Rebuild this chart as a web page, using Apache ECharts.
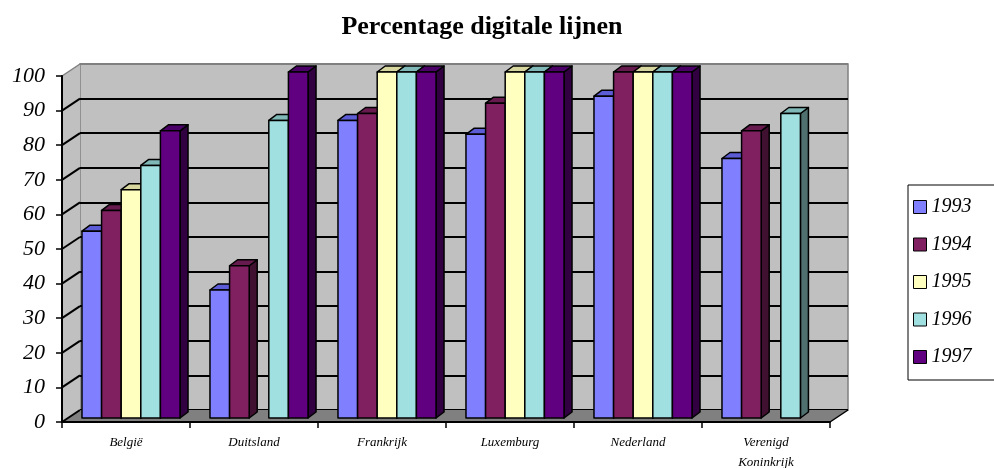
<!DOCTYPE html>
<html>
<head>
<meta charset="utf-8">
<title>Percentage digitale lijnen</title>
<script src="https://cdn.jsdelivr.net/npm/echarts@6/dist/echarts.min.js"></script>
<style>
  html, body { margin: 0; padding: 0; background: #fff; }
  #main { width: 994px; height: 468px; }
</style>
</head>
<body>
<div id="main"></div>
<script>
// landen en jaren
const landen = ['België', 'Duitsland', 'Frankrijk', 'Luxemburg', 'Nederland', 'Verenigd Koninkrijk']
const jaren = ['1993', '1994', '1995', '1996', '1997']
// percentage digitale lijnen per land (null = geen gegeven)
const v1993 = [54, 37, 86, 82, 93, 75]
const v1994 = [60, 44, 88, 91, 100, 83]
const v1995 = [66, null, 100, 100, 100, null]
const v1996 = [73, 86, 100, 100, 100, 88]
const v1997 = [83, 100, 100, 100, 100, null]
const yTicks = [0, 10, 20, 30, 40, 50, 60, 70, 80, 90, 100]

const waarden = [v1993, v1994, v1995, v1996, v1997]

// kleuren: voorkant, bovenkant, zijkant
const front = ['#8080ff', '#802060', '#ffffc0', '#a0e0e0', '#600080']
const topC = ['#5c5cd6', '#661a4d', '#d6d69e', '#80b8b8', '#4a0066']
const side = ['#404080', '#401030', '#808060', '#507070', '#300040']

// 3D offsets (pixels)
const WALL_DX = 18, WALL_DY = 12   // diepte van de achterwand
const BAR_SX = 5, BAR_SY = 4       // staven staan iets achter het voorvlak
const BAR_DX = 8, BAR_DY = 6       // diepte van een staaf

const chart = echarts.init(document.getElementById('main'))

function frameRenderer(params, api) {
  const cs = params.coordSys
  const L = cs.x, R = cs.x + cs.width
  const y0 = api.coord([0, 0])[1]
  const yTop = api.coord([0, 100])[1]
  const children = []
  // linker zijwand
  children.push({
    type: 'polygon',
    shape: { points: [[L, yTop], [L + WALL_DX, yTop - WALL_DY], [L + WALL_DX, y0 - WALL_DY], [L, y0]] },
    style: { fill: '#c0c0c0' }
  })
  // vloer
  children.push({
    type: 'polygon',
    shape: { points: [[L, y0], [R, y0], [R + WALL_DX, y0 - WALL_DY], [L + WALL_DX, y0 - WALL_DY]] },
    style: { fill: '#808080' }
  })
  // schuine lijnen op de zijwand
  yTicks.forEach(t => {
    const y = api.coord([0, t])[1]
    children.push({
      type: 'line',
      shape: { x1: L, y1: y, x2: L + WALL_DX, y2: y - WALL_DY },
      style: { stroke: t === 100 ? '#808080' : '#000', lineWidth: t === 100 ? 1.5 : 2 }
    })
  })
  // rechterrand vloer
  children.push({
    type: 'line',
    shape: { x1: R, y1: y0, x2: R + WALL_DX, y2: y0 - WALL_DY },
    style: { stroke: '#000', lineWidth: 1.5 }
  })
  return { type: 'group', children: children }
}

function barRenderer(idx) {
  return function (params, api) {
    const v = api.value(1)
    if (v == null || isNaN(v)) return
    const cat = api.value(0)
    const band = api.size([1, 0])[0]
    const groupW = band * 0.766
    const w = groupW / jaren.length
    const c = api.coord([cat, v])
    const base = api.coord([cat, 0])
    const x0 = c[0] - groupW / 2 + idx * w + BAR_SX
    const top = c[1] - BAR_SY
    const bot = base[1] - BAR_SY
    const stroke = { stroke: '#000', lineWidth: 1.5, lineJoin: 'round' }
    return {
      type: 'group',
      children: [
        {
          type: 'polygon',
          shape: { points: [[x0 + w, top], [x0 + w + BAR_DX, top - BAR_DY], [x0 + w + BAR_DX, bot - BAR_DY], [x0 + w, bot]] },
          style: Object.assign({ fill: side[idx] }, stroke)
        },
        {
          type: 'polygon',
          shape: { points: [[x0, top], [x0 + BAR_DX, top - BAR_DY], [x0 + w + BAR_DX, top - BAR_DY], [x0 + w, top]] },
          style: Object.assign({ fill: topC[idx] }, stroke)
        },
        {
          type: 'rect',
          shape: { x: x0, y: top, width: w, height: bot - top },
          style: Object.assign({ fill: front[idx] }, stroke)
        }
      ]
    }
  }
}

const barSeries = jaren.map((jaar, i) => ({
  name: jaar,
  type: 'custom',
  xAxisIndex: 0,
  yAxisIndex: 0,
  z: 3,
  itemStyle: { color: front[i], borderColor: '#000', borderWidth: 1 },
  renderItem: barRenderer(i),
  encode: { x: 0, y: 1 },
  data: waarden[i].map((v, k) => [k, v])
}))

const serif = 'Liberation Serif, Times New Roman, serif'

const option = {
  animation: false,
  color: front,
  title: {
    text: 'Percentage digitale lijnen',
    left: 477,
    textAlign: 'center',
    top: 9,
    textStyle: { fontFamily: serif, fontWeight: 'bold', fontSize: 26, color: '#000' }
  },
  legend: {
    orient: 'vertical',
    left: 908,
    top: 185,
    data: jaren,
    icon: 'rect',
    itemWidth: 13,
    itemHeight: 13,
    itemGap: 17.5,
    padding: [12, 40, 13, 5],
    borderColor: '#000',
    borderWidth: 1,
    itemStyle: { borderColor: '#000', borderWidth: 1 },
    textStyle: { fontFamily: serif, fontStyle: 'italic', fontSize: 20, color: '#000' }
  },
  grid: [
    // voorvlak
    { left: 62, top: 76, width: 768, height: 346, outerBoundsMode: 'none' },
    // achterwand
    { left: 62 + WALL_DX, top: 76 - WALL_DY, width: 768, height: 346, outerBoundsMode: 'none', show: true,
      backgroundColor: '#c0c0c0', borderColor: '#808080', borderWidth: 1.5 }
  ],
  xAxis: [
    {
      type: 'category', gridIndex: 0, data: landen, z: 5,
      axisLine: { lineStyle: { color: '#000', width: 2 } },
      axisTick: { show: true, length: 6, interval: 0, lineStyle: { color: '#000', width: 1.5 } },
      axisLabel: {
        interval: 0, margin: 11, color: '#000',
        fontFamily: serif, fontStyle: 'italic', fontSize: 13, lineHeight: 20,
        formatter: s => s.replace(' ', '\n')
      }
    },
    { type: 'category', gridIndex: 1, data: landen, show: false }
  ],
  yAxis: [
    {
      type: 'value', gridIndex: 0, min: 0, max: 100, interval: 10, z: 5,
      axisLine: { show: true, lineStyle: { color: '#000', width: 2 } },
      axisTick: { show: true, length: 6, lineStyle: { color: '#000', width: 1.5 } },
      splitLine: { show: false },
      axisLabel: { margin: 17, color: '#000', fontFamily: serif, fontStyle: 'italic', fontSize: 22 }
    },
    {
      type: 'value', gridIndex: 1, min: 0, max: 100, interval: 10,
      axisLine: { show: false }, axisTick: { show: false }, axisLabel: { show: false },
      splitLine: { show: true, lineStyle: { color: ['#000', '#000', '#000', '#000', '#000', '#000', '#000', '#000', '#000', '#000', '#808080'], width: 2 } }
    }
  ],
  series: [
    {
      name: 'frame',
      type: 'custom',
      xAxisIndex: 0,
      yAxisIndex: 0,
      z: 1,
      silent: true,
      renderItem: frameRenderer,
      encode: { x: 0, y: 1 },
      data: [[0, 0]]
    }
  ].concat(barSeries)
}

chart.setOption(option)
</script>
</body>
</html>
